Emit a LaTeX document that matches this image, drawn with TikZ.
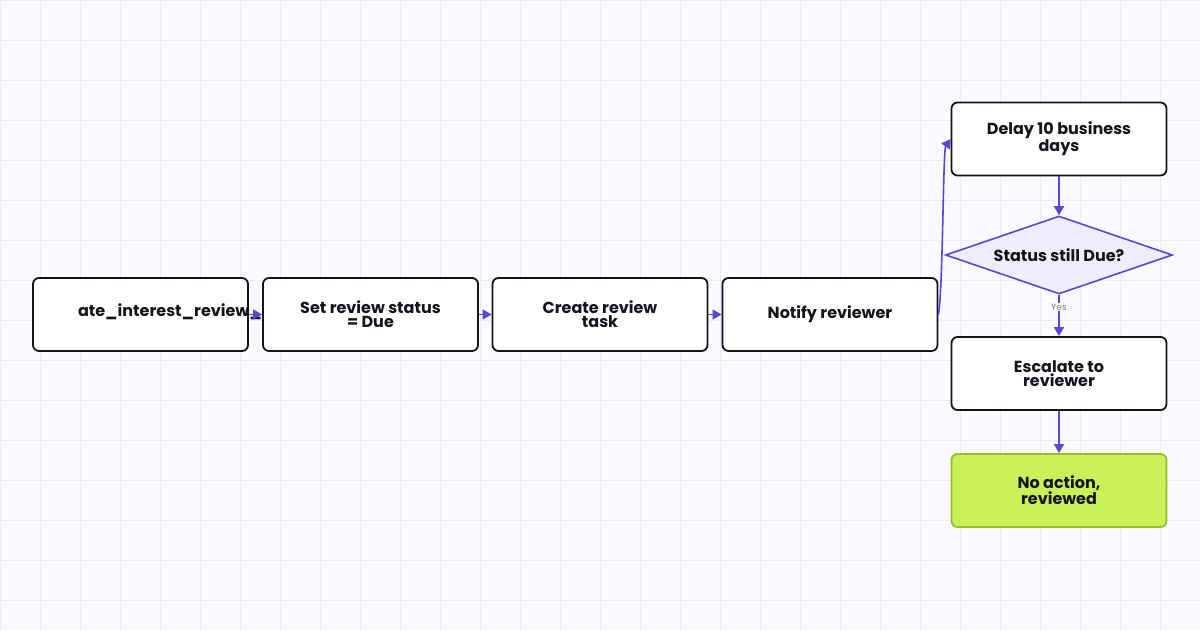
\documentclass[tikz,border=0pt]{standalone}
\usepackage{fontspec}
\setmainfont{Poppins}
\usetikzlibrary{shapes.geometric,arrows.meta}
\definecolor{bg}{HTML}{FAFAFE}
\definecolor{gridc}{HTML}{ECEAF8}
\definecolor{edge}{HTML}{5B45D9}
\definecolor{ink}{HTML}{15141A}
\definecolor{dfill}{HTML}{EFECFB}
\definecolor{gfill}{HTML}{C8F158}
\definecolor{gline}{HTML}{98BC2C}
\begin{document}
\begin{tikzpicture}[x=1pt,y=-1pt,
 box/.style={draw=ink,line width=1.8pt,rounded corners=6pt,fill=white,minimum width=215pt,minimum height=73pt,align=center,font=\bfseries\fontsize{16}{14}\selectfont,text=ink,inner sep=2pt},
 arr/.style={draw=edge,line width=1.6pt,-{Triangle[length=9pt,width=10pt]}}]
\useasboundingbox (0,0) rectangle (1200,630);
\fill[bg] (0,0) rectangle (1200,630);
\foreach \i in {0,40,...,1200} \draw[gridc,line width=0.6pt] (\i,0)--(\i,630);
\foreach \j in {0,40,...,630} \draw[gridc,line width=0.6pt] (0,\j)--(1200,\j);
\node[box] (a) at (140.5,314.5) {};
\node[anchor=east,font=\bfseries\fontsize{16}{14}\selectfont,text=ink,inner sep=0pt] (at) at (262,312) {ate\_interest\_review\_};
\node[box] (b) at (370.5,314.5) {Set review status\\= Due};
\node[box] (c) at (600,314.5) {Create review\\task};
\node[box] (d) at (830,314.5) {Notify reviewer};
\node[box] (e) at (1059,139) {Delay 10 business\\days};
\node[diamond,draw=edge,line width=1.6pt,fill=dfill,aspect=2.9,minimum width=227pt,minimum height=78pt,inner sep=0pt,font=\bfseries\fontsize{16}{14}\selectfont,text=ink] (f) at (1059,255) {Status still Due?};
\node[box] (g) at (1059,373.5) {Escalate to\\reviewer};
\node[box,draw=gline,fill=gfill] (h) at (1059,490.5) {No action,\\reviewed};
\draw[arr] (a.east) -- (b.west);
\draw[arr] (b.east) -- (c.west);
\draw[arr] (c.east) -- (d.west);
\draw[arr] (d.east) .. controls (943,290) and (943,150) .. (e.west);
\draw[arr] (e.south) -- (f.north);
\draw[arr] (f.south) -- node[pos=0.3,fill=bg,inner sep=1pt,font=\fontsize{9}{9}\selectfont,text=gray]{Yes} (g.north);
\draw[arr] (g.south) -- (h.north);
\end{tikzpicture}
\end{document}
